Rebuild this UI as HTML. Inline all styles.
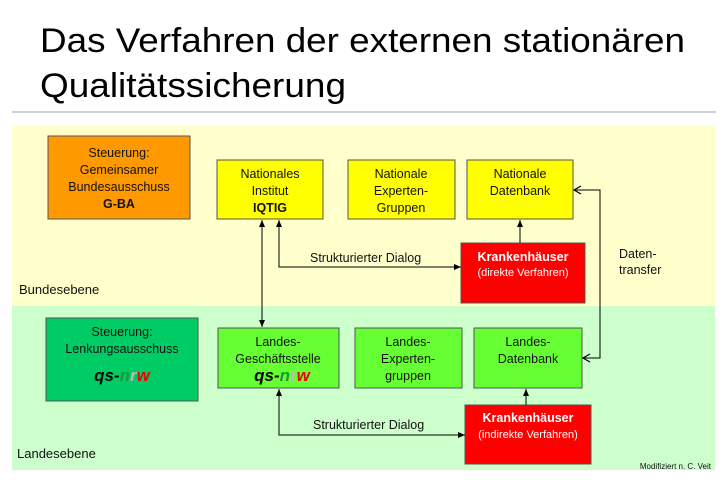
<!DOCTYPE html>
<html><head><meta charset="utf-8"><style>body{margin:0;background:#fff}svg{display:block}</style></head><body>
<svg width="727" height="482" xmlns="http://www.w3.org/2000/svg" font-family="Liberation Sans, sans-serif">
<defs>
<marker id="a" markerWidth="8" markerHeight="8" refX="7" refY="4" orient="auto-start-reverse" markerUnits="userSpaceOnUse"><path d="M0,1 L7,4 L0,7 z" fill="#000"/></marker>
<marker id="o" markerWidth="10" markerHeight="10" refX="8" refY="5" orient="auto-start-reverse" markerUnits="userSpaceOnUse"><path d="M1,1 L8,5 L1,9" fill="none" stroke="#000" stroke-width="1.2"/></marker>
</defs>
<text x="40" y="52" font-size="34" textLength="645" lengthAdjust="spacingAndGlyphs">Das Verfahren der externen stationären</text>
<text x="40" y="97" font-size="34" textLength="306" lengthAdjust="spacingAndGlyphs">Qualitätssicherung</text>
<rect x="12" y="111" width="704" height="2" fill="#d0d0d8"/>
<rect x="12" y="125" width="703" height="181" fill="#ffffcc"/>
<rect x="12" y="306" width="703" height="164" fill="#ccffcc"/>
<g stroke="#555" stroke-width="1">
<rect x="48" y="136" width="142" height="83" fill="#ff9900"/>
<rect x="217" y="160" width="106" height="59" fill="#ffff00"/>
<rect x="348" y="160" width="107" height="59" fill="#ffff00"/>
<rect x="467" y="160" width="106" height="59" fill="#ffff00"/>
<rect x="461" y="243" width="124" height="60" fill="#ff0000"/>
<rect x="46" y="318" width="152" height="83" fill="#00cc66"/>
<rect x="218" y="328" width="121" height="60" fill="#66ff33"/>
<rect x="355" y="328" width="107" height="60" fill="#66ff33"/>
<rect x="474" y="328" width="108" height="60" fill="#66ff33"/>
<rect x="465" y="405" width="126" height="59" fill="#ff0000"/>
</g>
<g stroke="#000" stroke-width="1" fill="none">
<line x1="262" y1="327" x2="262" y2="220" marker-start="url(#a)" marker-end="url(#a)"/>
<polyline points="279,220 279,267 461,267" marker-start="url(#a)" marker-end="url(#a)"/>
<line x1="520" y1="243" x2="520" y2="220" marker-end="url(#a)"/>
<polyline points="279,389 279,435 465,435" marker-start="url(#a)" marker-end="url(#a)"/>
<line x1="526" y1="405" x2="526" y2="389" marker-end="url(#a)"/>
<polyline points="574,190 600,190 600,358 583,358" marker-start="url(#o)" marker-end="url(#o)"/>
</g>
<g font-size="12.5" text-anchor="middle" fill="#111">
<text x="119" y="157">Steuerung:</text>
<text x="119" y="174">Gemeinsamer</text>
<text x="119" y="191">Bundesausschuss</text>
<text x="119" y="208" font-weight="bold">G-BA</text>
<text x="270" y="178">Nationales</text>
<text x="270" y="195">Institut</text>
<text x="270" y="212" font-weight="bold">IQTIG</text>
<text x="401" y="178">Nationale</text>
<text x="401" y="195">Experten-</text>
<text x="401" y="212">Gruppen</text>
<text x="520" y="178">Nationale</text>
<text x="520" y="195">Datenbank</text>
<text x="523" y="261" fill="#fff" font-weight="bold">Krankenhäuser</text>
<text x="523" y="276" fill="#fff" font-size="11">(direkte Verfahren)</text>
<text x="122" y="336">Steuerung:</text>
<text x="122" y="353">Lenkungsausschuss</text>
<text x="278" y="346">Landes-</text>
<text x="278" y="363">Geschäftsstelle</text>
<text x="408" y="346">Landes-</text>
<text x="408" y="363">Experten-</text>
<text x="408" y="380">gruppen</text>
<text x="528" y="346">Landes-</text>
<text x="528" y="363">Datenbank</text>
<text x="528" y="422" fill="#fff" font-weight="bold">Krankenhäuser</text>
<text x="528" y="438" fill="#fff" font-size="11">(indirekte Verfahren)</text>
</g>
<g font-size="17" font-weight="bold" font-style="italic" text-anchor="middle">
<text x="122" y="381"><tspan fill="#000">qs-</tspan><tspan fill="#1a9a3a">n</tspan><tspan fill="#bbb">r</tspan><tspan fill="#e00">w</tspan></text>
<text x="282" y="381"><tspan fill="#000">qs-</tspan><tspan fill="#1a9a3a">n</tspan><tspan fill="#bbb">r</tspan><tspan fill="#e00">w</tspan></text>
</g>
<g font-size="12.5" fill="#111">
<text x="310" y="262">Strukturierter Dialog</text>
<text x="313" y="429">Strukturierter Dialog</text>
<text x="619" y="258">Daten-</text>
<text x="619" y="274">transfer</text>
<text x="19" y="294" font-size="13">Bundesebene</text>
<text x="17" y="458" font-size="13">Landesebene</text>
<text x="711" y="469" font-size="8" text-anchor="end">Modifiziert n. C. Veit</text>
</g>
</svg>
</body></html>
